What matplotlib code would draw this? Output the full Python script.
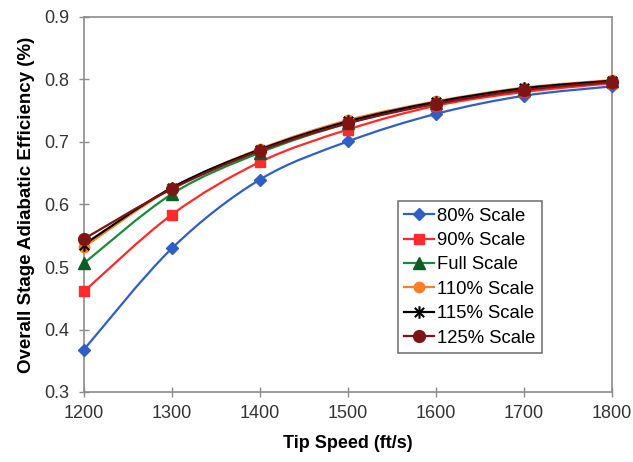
import numpy as np
import matplotlib
matplotlib.use("Agg")
import matplotlib.pyplot as plt
import matplotlib.lines as mlines
from matplotlib.path import Path
from matplotlib.patches import PathPatch

plt.rcParams['font.family'] = ['Liberation Sans', 'DejaVu Sans']

tip_speed = [1200, 1300, 1400, 1500, 1600, 1700, 1800]
eff_80 = [0.368, 0.530, 0.640, 0.701, 0.745, 0.774, 0.789]
eff_90 = [0.461, 0.584, 0.668, 0.720, 0.758, 0.780, 0.794]
eff_full = [0.506, 0.617, 0.683, 0.730, 0.763, 0.785, 0.797]
eff_110 = [0.532, 0.626, 0.689, 0.735, 0.765, 0.787, 0.799]
eff_115 = [0.536, 0.627, 0.688, 0.733, 0.764, 0.786, 0.798]
eff_125 = [0.545, 0.625, 0.686, 0.730, 0.761, 0.783, 0.796]
labels = ["80% Scale", "90% Scale", "Full Scale", "110% Scale", "115% Scale", "125% Scale"]

# asterisk marker like excel's "star": vertical bar plus an x
star = Path([(0, -1), (0, 1), (-0.75, -0.75), (0.75, 0.75), (-0.75, 0.75), (0.75, -0.75)],
            [Path.MOVETO, Path.LINETO, Path.MOVETO, Path.LINETO, Path.MOVETO, Path.LINETO])

styles = [
    dict(color="#2f5fc4", marker="D", ms=6),
    dict(color="#ff2a2a", marker="s", ms=7.5),
    dict(color="#1a8a3a", marker="^", ms=8, mfc="#0d5c22", mec="#0d5c22"),
    dict(color="#ff7f27", marker="o", ms=7.5),
    dict(color="#000000", marker=star, ms=9, mew=1.5),
    dict(color="#7f1414", marker="o", ms=8.5),
]


def smooth_path(x, y):
    # excel-style smoothed line: catmull-rom segments as cubic beziers
    pts = np.column_stack([x, y]).astype(float)
    verts = [pts[0]]
    codes = [Path.MOVETO]
    n = len(pts)
    for i in range(n - 1):
        p0 = pts[max(i - 1, 0)]
        p1 = pts[i]
        p2 = pts[i + 1]
        p3 = pts[min(i + 2, n - 1)]
        c1 = p1 + (p2 - p0) / 6.0
        c2 = p2 - (p3 - p1) / 6.0
        verts += [c1, c2, p2]
        codes += [Path.CURVE4] * 3
    return Path(verts, codes)


fig = plt.figure(figsize=(6.33, 4.62), dpi=100)
ax = fig.add_axes([84 / 633, 70 / 462, (612 - 84) / 633, (392 - 17) / 462])

series = [eff_80, eff_90, eff_full, eff_110, eff_115, eff_125]
for vals, st in zip(series, styles):
    st = dict(st)
    col = st.pop("color")
    ax.add_patch(PathPatch(smooth_path(tip_speed, vals), fill=False, edgecolor=col,
                           lw=1.6, clip_on=False))
    ax.plot(tip_speed, vals, linestyle="None", color=col, clip_on=False, zorder=3, **st)

ax.set_xlim(1200, 1800)
ax.set_ylim(0.3, 0.9)
ax.set_xticks(np.arange(1200, 1801, 100))
ax.set_yticks(np.arange(0.3, 0.91, 0.1))
ax.set_yticklabels(["%.1f" % v for v in np.arange(0.3, 0.91, 0.1)])

for s in ax.spines.values():
    s.set_color("#8c8c8c")
    s.set_linewidth(1.2)
ax.tick_params(direction="inout", length=7, width=1.0, color="#8c8c8c",
               labelsize=13, labelcolor="#333333")
ax.tick_params(axis="y", pad=7)
ax.tick_params(axis="x", pad=6)

ax.set_xlabel("Tip Speed (ft/s)", fontsize=13, fontweight="bold", labelpad=9)
ax.set_ylabel("Overall Stage Adiabatic Efficiency (%)", fontsize=13.5, fontweight="bold",
              labelpad=7)

leg_handles = []
for lab, st in zip(labels, styles):
    st = dict(st)
    col = st.pop("color")
    leg_handles.append(mlines.Line2D([], [], color=col, lw=1.6, label=lab, **st))
leg = ax.legend(handles=leg_handles, loc="lower left", bbox_to_anchor=(0.594, 0.104),
                fontsize=13.3, frameon=True, fancybox=False, edgecolor="#555555",
                handlelength=1.6, handletextpad=0.2, labelspacing=0.4, borderpad=0.35,
                borderaxespad=0)
leg.get_frame().set_linewidth(1.2)

fig.savefig("out.png", dpi=100)
